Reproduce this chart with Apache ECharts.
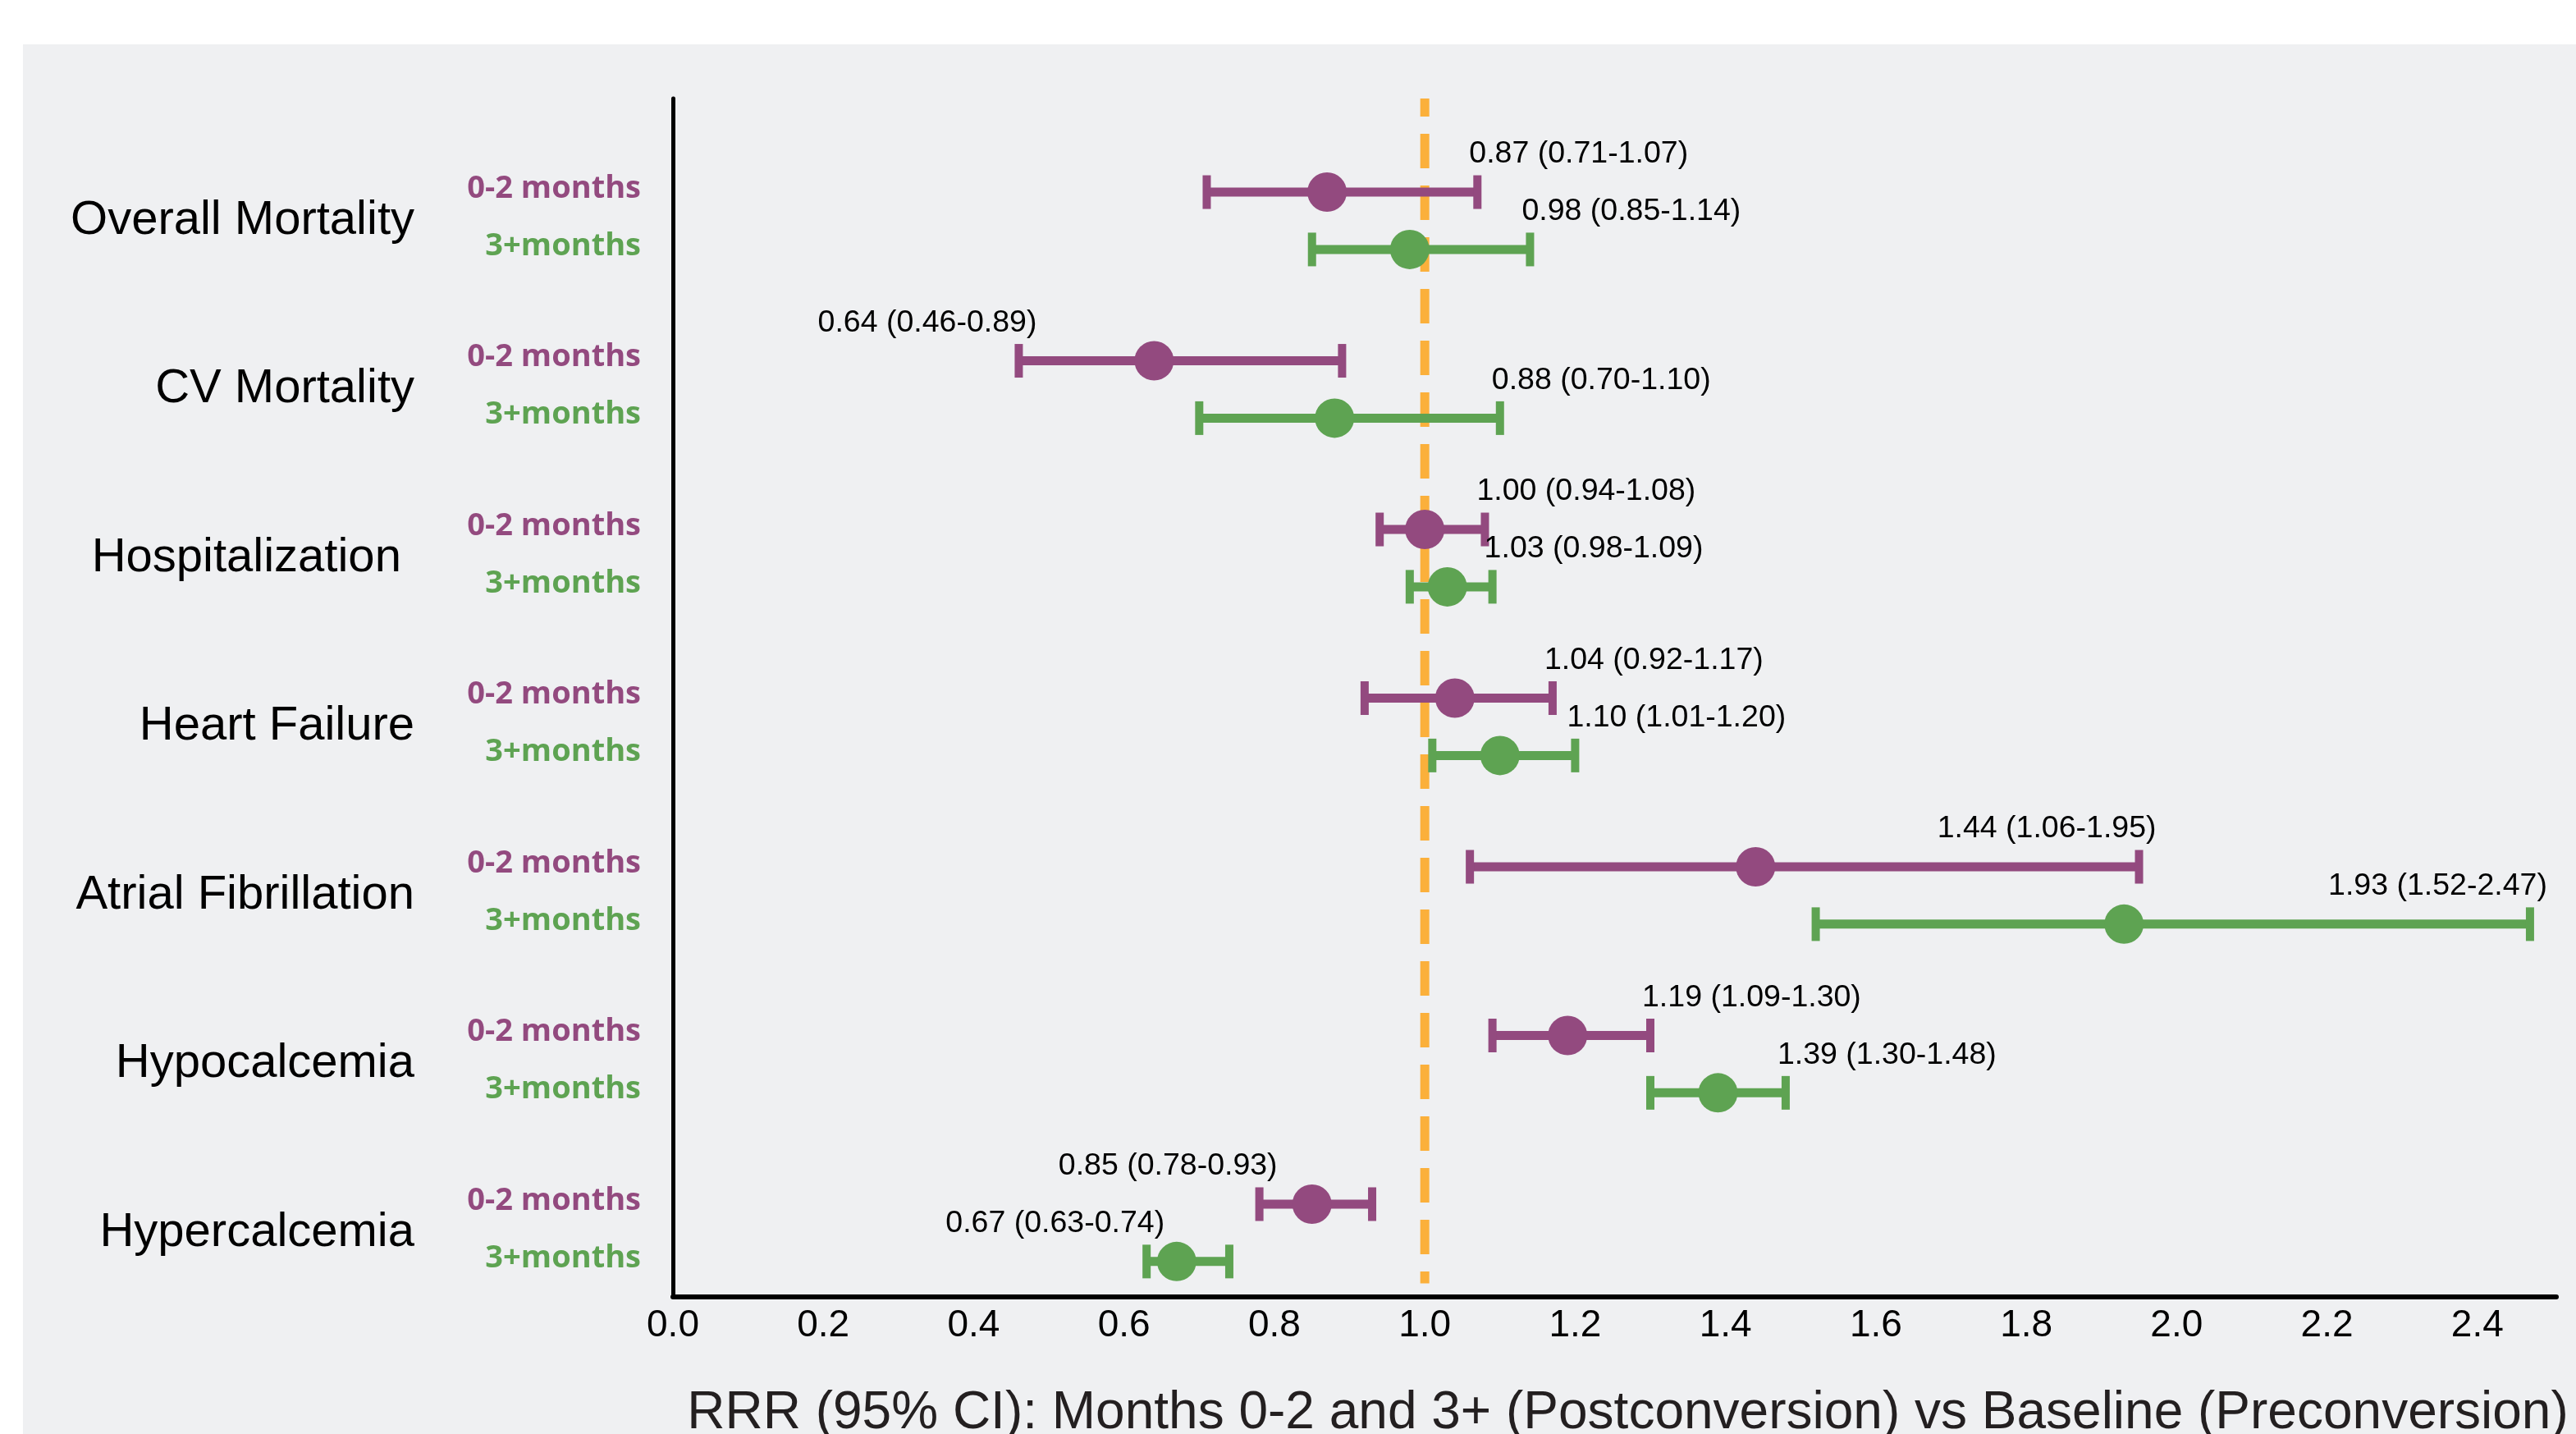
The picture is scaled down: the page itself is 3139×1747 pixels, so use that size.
<!DOCTYPE html>
<html>
<head>
<meta charset="utf-8">
<script src="https://cdn.jsdelivr.net/npm/echarts@6/dist/echarts.min.js"></script>
<style>html,body{margin:0;padding:0;background:#fff}#c{width:3139px;height:1747px}</style>
</head>
<body>
<div id="c"></div>
<script>
// ---- data ----
var categories = ['Overall Mortality', 'CV Mortality', 'Hospitalization ', 'Heart Failure', 'Atrial Fibrillation', 'Hypocalcemia', 'Hypercalcemia'];
var periodNames = ['0-2 months', '3+months'];
var earlyEst = [0.87, 0.64, 1.00, 1.04, 1.44, 1.19, 0.85];
var earlyLo  = [0.71, 0.46, 0.94, 0.92, 1.06, 1.09, 0.78];
var earlyHi  = [1.07, 0.89, 1.08, 1.17, 1.95, 1.30, 0.93];
var lateEst  = [0.98, 0.88, 1.03, 1.10, 1.93, 1.39, 0.67];
var lateLo   = [0.85, 0.70, 0.98, 1.01, 1.52, 1.30, 0.63];
var lateHi   = [1.14, 1.10, 1.09, 1.20, 2.47, 1.48, 0.74];
var referenceValue = 1.0;
var xTicks = [0.0, 0.2, 0.4, 0.6, 0.8, 1.0, 1.2, 1.4, 1.6, 1.8, 2.0, 2.2, 2.4];

// ---- layout (not data) ----
var earlyLabelMode = ['hi', 'lo', 'hi', 'hi', 'hiR', 'hi', 'lo'];
var lateLabelMode  = ['hi', 'hi', 'hi', 'hi', 'hiR', 'hi', 'lo'];
var ROW_OFF = 0.17;
var PURPLE = '#934A7F', GREEN = '#5EA352', ORANGE = '#FBB03B';
var FONT = "'Liberation Sans', Arial, sans-serif";

function fmt(v) { return v.toFixed(2); }

function buildData(est, lo, hi, off) {
  return categories.map(function (c, i) { return [lo[i], hi[i], est[i], i + off, i]; });
}

function makeRender(color, modes, est, lo, hi) {
  return function (params, api) {
    var y = api.value(3);
    var i = api.value(4);
    var pLo = api.coord([api.value(0), y]);
    var pHi = api.coord([api.value(1), y]);
    var pE = api.coord([api.value(2), y]);
    var mode = modes[i];
    var tx, align;
    if (mode === 'hi') { tx = pHi[0] - 10; align = 'left'; }
    else if (mode === 'hiR') { tx = pHi[0] + 21; align = 'right'; }
    else { tx = pLo[0] + 22; align = 'right'; }
    return {
      type: 'group',
      children: [
        { type: 'line', shape: { x1: pLo[0], y1: pLo[1], x2: pHi[0], y2: pHi[1] }, style: { stroke: color, lineWidth: 11 } },
        { type: 'rect', shape: { x: pLo[0] - 5, y: pLo[1] - 20.5, width: 10, height: 41 }, style: { fill: color } },
        { type: 'rect', shape: { x: pHi[0] - 5, y: pHi[1] - 20.5, width: 10, height: 41 }, style: { fill: color } },
        { type: 'circle', shape: { cx: pE[0], cy: pE[1], r: 24 }, style: { fill: color } },
        { type: 'text', x: tx, y: pE[1] - 46, style: {
            text: fmt(est[i]) + ' (' + fmt(lo[i]) + '-' + fmt(hi[i]) + ')',
            fill: '#000', font: '37.5px ' + FONT, align: align, verticalAlign: 'middle' } }
      ]
    };
  };
}

var subValues = [], catValues = [];
categories.forEach(function (c, i) { subValues.push(i - ROW_OFF, i + ROW_OFF); catValues.push(i); });

var chart = echarts.init(document.getElementById('c'), null, { renderer: 'canvas' });
var yCommon = { type: 'value', inverse: true, min: -0.725, max: 6.38, position: 'left', splitLine: { show: false }, axisTick: { show: false } };

chart.setOption({
  backgroundColor: '#ffffff',
  animation: false,
  graphic: [{ type: 'rect', left: 28, top: 54, shape: { width: 3111, height: 1693 }, style: { fill: '#EFF0F2' }, z: -10, silent: true }],
  grid: { left: 820, right: 24, top: 120, bottom: 167, containLabel: false, outerBoundsMode: 'none' },
  xAxis: {
    type: 'value', min: 0, max: 2.505, interval: 0.2,
    axisLine: { show: true, onZero: false, lineStyle: { color: '#000', width: 6 } },
    axisTick: { show: false }, splitLine: { show: false },
    axisLabel: { fontSize: 46, color: '#000', fontFamily: FONT, margin: 12,
      customValues: xTicks, formatter: function (v) { return v.toFixed(1); } },
    name: 'RRR (95% CI): Months 0-2 and 3+ (Postconversion) vs Baseline (Preconversion)',
    nameLocation: 'middle', nameGap: 110,
    nameTextStyle: { fontSize: 64, color: '#231F20', fontFamily: FONT, padding: [0, 0, 0, 32] }
  },
  yAxis: [
    Object.assign({}, yCommon, {
      axisLine: { show: true, onZero: false, lineStyle: { color: '#000', width: 5 } },
      axisLabel: { customValues: subValues, margin: 39, fontFamily: "'Open Sans', sans-serif", fontWeight: 'bold', fontSize: 38,
        padding: [0, 0, 8, 0],
        formatter: function (v) { var k = Math.round(v * 1000) / 1000; return (k - Math.round(k)) < 0 ? '{a|' + periodNames[0] + '}' : '{b|' + periodNames[1] + '}'; },
        rich: { a: { color: PURPLE, fontFamily: "'Open Sans', sans-serif", fontWeight: 'bold', fontSize: 38 },
                b: { color: GREEN, fontFamily: "'Open Sans', sans-serif", fontWeight: 'bold', fontSize: 38 } } }
    }),
    Object.assign({}, yCommon, {
      axisLine: { show: false },
      axisLabel: { customValues: catValues, margin: 315, fontFamily: FONT, fontSize: 58, color: '#000',
        padding: [0, 0, 14, 0],
        formatter: function (v) { return categories[Math.round(v)]; } }
    })
  ],
  series: [
    {
      type: 'custom', z: 1, silent: true,
      data: [[referenceValue]],
      renderItem: function (params, api) {
        var top = api.coord([api.value(0), -0.725]);
        var bot = api.coord([api.value(0), 6.30]);
        return { type: 'line', shape: { x1: top[0], y1: top[1], x2: bot[0], y2: bot[1] },
          style: { stroke: ORANGE, lineWidth: 11, lineDash: [42, 21], lineDashOffset: 20 } };
      }
    },
    {
      type: 'custom', name: periodNames[0], z: 3, silent: true,
      encode: { x: [0, 1, 2], y: 3 },
      data: buildData(earlyEst, earlyLo, earlyHi, -ROW_OFF),
      renderItem: makeRender(PURPLE, earlyLabelMode, earlyEst, earlyLo, earlyHi)
    },
    {
      type: 'custom', name: periodNames[1], z: 3, silent: true,
      encode: { x: [0, 1, 2], y: 3 },
      data: buildData(lateEst, lateLo, lateHi, ROW_OFF),
      renderItem: makeRender(GREEN, lateLabelMode, lateEst, lateLo, lateHi)
    }
  ]
});
</script>
</body>
</html>
